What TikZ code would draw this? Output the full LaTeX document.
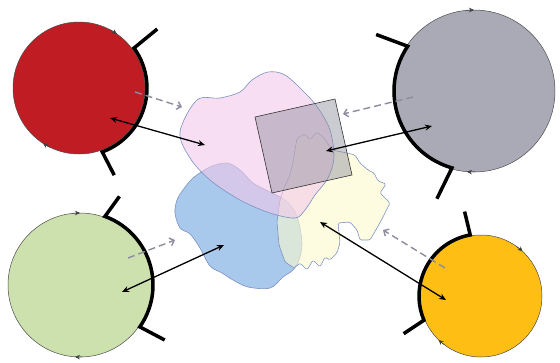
\documentclass[tikz,border=0pt]{standalone}
\usetikzlibrary{arrows.meta, calc}

\definecolor{discred}{RGB}{192,28,36}
\definecolor{discgray}{RGB}{170,170,182}
\definecolor{discgreen}{RGB}{204,225,174}
\definecolor{discyellow}{RGB}{255,190,20}
\definecolor{pinkfill}{RGB}{242,200,234}
\definecolor{bluefill}{RGB}{168,200,236}
\definecolor{creamfill}{RGB}{252,250,205}
\definecolor{squarefill}{RGB}{140,140,155}
\definecolor{blobline}{RGB}{125,145,190}
\definecolor{hintgray}{RGB}{140,140,158}

\begin{document}
\begin{tikzpicture}[x=1pt, y=-1pt,
		% Styles
		disc/.style={circle, draw=black!70, line width=0.5pt, inner sep=0pt},
		rim/.style={line width=3.5pt, line join=miter},
		spin/.style={draw=black!75, line width=0.5pt, -{Stealth[length=5pt, width=4.5pt]}},
		blob/.style={draw=blobline, line width=0.6pt},
		link/.style={{Stealth[length=7pt, width=6pt]}-{Stealth[length=7pt, width=6pt]}, line width=1.3pt},
		hint/.style={-{Straight Barb[length=4pt, width=8pt]}, dash pattern=on 7pt off 4pt, line width=1.4pt, draw=hintgray}
		]
		
		\useasboundingbox (0,0) rectangle (560,362);
		
		% =========================================================
		% 1. CENTRE: the overlapping regions
		% =========================================================
		\draw[blob, fill=bluefill] plot[smooth cycle, tension=0.55] coordinates {
			(193,178) (210,167) (227,163) (240,170) (253,183) (270,192) (285,200) (295,212)
			(300,228) (302,245) (299,260) (293,270) (283,277) (270,288) (248,287)
			(233,280) (222,273) (210,266) (200,248) (190,234) (180,228) (175,213) (177,200) (183,190)};
		
		\draw[blob, fill=creamfill, fill opacity=0.6, rounded corners=1.5pt]
			(297,138) -- (305,134) -- (310,140) -- (317,132) -- (324,138) -- (332,150) -- (347,153)
			-- (355,155) -- (360,163) -- (368,170) -- (374,173) -- (378,181) -- (386,184) -- (380,193)
			-- (390,203) -- (383,217) -- (377,228) -- (370,240) -- (360,240) -- (357,230) -- (350,222)
			-- (338,223) -- (340,243) -- (337,253) -- (330,260) -- (325,257) -- (320,267) -- (313,260)
			-- (307,270) -- (300,263) -- (294,268) -- (285,262) -- (279,245) -- (277,222) -- (280,200)
			-- (284,188) -- (290,175) -- (293,162) -- cycle;
		
		\draw[blob, fill=pinkfill, fill opacity=0.6] plot[smooth cycle, tension=0.55] coordinates {
			(197,100) (220,98) (240,92) (252,80) (268,72) (285,75) (305,93) (318,108) (330,130)
			(334,157) (328,178) (315,195) (305,210) (295,218) (270,213) (240,200) (210,180) (190,158) (180,132)};
		
		\draw[draw=black!80, line width=0.6pt, fill=squarefill, fill opacity=0.45]
			(255,117) -- (335,99) -- (352,175) -- (272,193) -- cycle;
		
		% =========================================================
		% 2. THE FOUR DISCS
		% =========================================================
		\node[disc, fill=discred, minimum size=132pt] (red) at (79,88) {};
		\node[disc, fill=discgray, minimum size=162pt] (gray) at (474,91) {};
		\node[disc, fill=discgreen, minimum size=144pt] (green) at (80,285) {};
		\node[disc, fill=discyellow, minimum size=122pt] (yellow) at (481,296) {};
		
		% direction tips on the rims
		\draw[spin] ($(red.center)+(62:66pt)$) arc[start angle=62, end angle=55, radius=66pt];
		\draw[spin] ($(red.center)+(244:66pt)$) arc[start angle=244, end angle=237, radius=66pt];
		\draw[spin] ($(gray.center)+(96:81pt)$) arc[start angle=96, end angle=90, radius=81pt];
		\draw[spin] ($(gray.center)+(271:81pt)$) arc[start angle=271, end angle=265, radius=81pt];
		\draw[spin] ($(green.center)+(96:72pt)$) arc[start angle=96, end angle=90, radius=72pt];
		\draw[spin] ($(green.center)+(272:72pt)$) arc[start angle=272, end angle=266, radius=72pt];
		\draw[spin] ($(yellow.center)+(54:61pt)$) arc[start angle=54, end angle=47, radius=61pt];
		\draw[spin] ($(yellow.center)+(233:61pt)$) arc[start angle=233, end angle=226, radius=61pt];
		
		% thick brackets
		\draw[rim] ($(red.center)+(37:98pt)$) -- ($(red.center)+(36:68pt)$)
			arc[start angle=36, end angle=-70, radius=68pt] -- ($(red.center)+(-68:94pt)$);
		\draw[rim] ($(gray.center)+(150:113pt)$) -- ($(gray.center)+(146:80pt)$)
			arc[start angle=146, end angle=254, radius=80pt] -- ($(gray.center)+(251:114pt)$);
		\draw[rim] ($(green.center)+(66:97pt)$) -- ($(green.center)+(70:73pt)$)
			arc[start angle=70, end angle=-35, radius=73pt] -- ($(green.center)+(-33:101pt)$);
		\draw[rim] ($(yellow.center)+(101:86pt)$) -- ($(yellow.center)+(100:62pt)$)
			arc[start angle=100, end angle=203, radius=62pt] -- ($(yellow.center)+(206:86pt)$);
		
		% =========================================================
		% 3. LINKS
		% =========================================================
		\coordinate (redIn) at (110,118);   \coordinate (pinkIn) at (205,145);
		\coordinate (grayIn) at (432,126);  \coordinate (squareIn) at (326,151);
		\coordinate (greenIn) at (122,292); \coordinate (blueIn) at (224,245);
		\coordinate (yellowIn) at (446,300); \coordinate (creamIn) at (320,222);
		
		\coordinate (redOut) at (135,92);    \coordinate (pinkTip) at (182,107);
		\coordinate (grayOut) at (413,97);   \coordinate (squareTip) at (343,114);
		\coordinate (greenOut) at (128,258); \coordinate (blueTip) at (175,240);
		\coordinate (yellowOut) at (445,268); \coordinate (creamTip) at (383,230);
		
		\draw[hint] (redOut) -- (pinkTip);
		\draw[hint] (grayOut) -- (squareTip);
		\draw[hint] (greenOut) -- (blueTip);
		\draw[hint] (yellowOut) -- (creamTip);
		
		\draw[link] (redIn) -- (pinkIn);
		\draw[link] (grayIn) -- (squareIn);
		\draw[link] (greenIn) -- (blueIn);
		\draw[link] (yellowIn) -- (creamIn);
		
	\end{tikzpicture}
\end{document}
